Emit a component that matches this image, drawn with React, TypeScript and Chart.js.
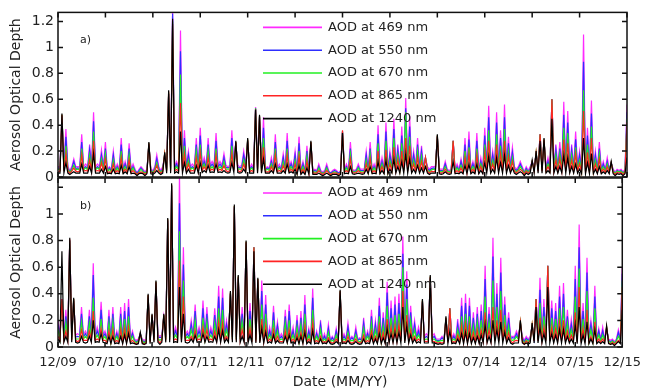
import React, { useEffect, useRef } from "react";
import { Chart, registerables } from "chart.js";

Chart.register(...registerables);

const X_TICK_LABELS = ["12/09", "07/10", "12/10", "07/11", "12/11", "07/12", "12/12", "07/13", "12/13", "07/14", "12/14", "07/15", "12/15"];
const SERIES_NAMES = ["AOD at 469 nm", "AOD at 550 nm", "AOD at 670 nm", "AOD at 865 nm", "AOD at 1240 nm"];
const SERIES_COLORS = ["#ff2aff", "#2e2eff", "#22f022", "#ff2424", "#000000"];
const Y_MAX = 1.27;

// Panel a) — spike (peak) values, one per ~15 days
const A_469 = [
  0.08, 0.47, 0.37, 0.05, 0.14, 0.08, 0.33, 0.10, 0.25, 0.50,
  0.10, 0.21, 0.27, 0.08, 0.20, 0.10, 0.30, 0.12, 0.26, 0.10,
  0.03, 0.08, 0.04, 0.25, 0.05, 0.17, 0.05, 0.17, 0.64, 1.30,
  0.12, 1.13, 0.36, 0.20, 0.10, 0.30, 0.38, 0.15, 0.30, 0.12,
  0.34, 0.12, 0.18, 0.08, 0.36, 0.26, 0.08, 0.20, 0.28, 0.10,
  0.54, 0.46, 0.46, 0.08, 0.15, 0.33, 0.10, 0.18, 0.34, 0.12,
  0.20, 0.31, 0.12, 0.24, 0.26, 0.06, 0.10, 0.04, 0.10, 0.03,
  0.06, 0.03, 0.35, 0.10, 0.27, 0.05, 0.10, 0.06, 0.20, 0.27,
  0.10, 0.40, 0.15, 0.42, 0.20, 0.45, 0.25, 0.39, 0.61, 0.47,
  0.20, 0.30, 0.24, 0.15, 0.06, 0.08, 0.31, 0.06, 0.12, 0.05,
  0.28, 0.10, 0.14, 0.30, 0.35, 0.12, 0.34, 0.15, 0.38, 0.55,
  0.20, 0.50, 0.36, 0.56, 0.31, 0.23, 0.06, 0.12, 0.04, 0.05,
  0.12, 0.18, 0.33, 0.28, 0.15, 0.60, 0.25, 0.27, 0.58, 0.51,
  0.25, 0.35, 0.20, 1.10, 0.38, 0.59, 0.20, 0.27, 0.12, 0.15,
  0.11, 0.04, 0.05, 0.04, 0.56,
];
const A_550 = [
  0.07, 0.47, 0.31, 0.04, 0.12, 0.07, 0.27, 0.08, 0.21, 0.43,
  0.08, 0.17, 0.22, 0.07, 0.17, 0.08, 0.25, 0.10, 0.22, 0.08,
  0.03, 0.07, 0.03, 0.25, 0.04, 0.14, 0.04, 0.17, 0.64, 1.26,
  0.10, 0.97, 0.30, 0.17, 0.08, 0.25, 0.32, 0.12, 0.25, 0.10,
  0.28, 0.10, 0.15, 0.07, 0.30, 0.26, 0.07, 0.17, 0.28, 0.08,
  0.53, 0.46, 0.38, 0.07, 0.12, 0.27, 0.08, 0.15, 0.28, 0.10,
  0.17, 0.26, 0.10, 0.20, 0.26, 0.05, 0.08, 0.03, 0.08, 0.03,
  0.05, 0.03, 0.35, 0.08, 0.22, 0.04, 0.08, 0.05, 0.17, 0.22,
  0.08, 0.33, 0.12, 0.35, 0.17, 0.37, 0.21, 0.32, 0.53, 0.39,
  0.17, 0.25, 0.20, 0.15, 0.05, 0.07, 0.31, 0.05, 0.10, 0.04,
  0.28, 0.08, 0.12, 0.25, 0.29, 0.10, 0.28, 0.12, 0.32, 0.46,
  0.17, 0.42, 0.30, 0.46, 0.26, 0.19, 0.05, 0.10, 0.03, 0.04,
  0.12, 0.18, 0.33, 0.28, 0.12, 0.60, 0.21, 0.22, 0.48, 0.42,
  0.21, 0.29, 0.17, 0.89, 0.32, 0.49, 0.17, 0.22, 0.10, 0.12,
  0.11, 0.03, 0.04, 0.03, 0.50,
];
const A_670 = [
  0.06, 0.48, 0.24, 0.04, 0.09, 0.06, 0.22, 0.07, 0.17, 0.35,
  0.07, 0.14, 0.18, 0.06, 0.13, 0.07, 0.20, 0.08, 0.17, 0.07,
  0.02, 0.06, 0.03, 0.26, 0.04, 0.11, 0.04, 0.18, 0.65, 1.20,
  0.08, 0.79, 0.24, 0.13, 0.07, 0.20, 0.25, 0.10, 0.20, 0.08,
  0.22, 0.08, 0.12, 0.06, 0.24, 0.27, 0.06, 0.13, 0.29, 0.07,
  0.53, 0.47, 0.30, 0.06, 0.10, 0.22, 0.07, 0.12, 0.22, 0.08,
  0.13, 0.20, 0.08, 0.16, 0.27, 0.04, 0.07, 0.03, 0.07, 0.02,
  0.04, 0.02, 0.35, 0.07, 0.18, 0.04, 0.07, 0.04, 0.13, 0.18,
  0.07, 0.26, 0.10, 0.28, 0.13, 0.30, 0.17, 0.26, 0.50, 0.31,
  0.13, 0.20, 0.16, 0.15, 0.04, 0.06, 0.32, 0.04, 0.08, 0.04,
  0.28, 0.07, 0.09, 0.20, 0.23, 0.08, 0.22, 0.10, 0.25, 0.36,
  0.13, 0.33, 0.24, 0.37, 0.20, 0.15, 0.04, 0.08, 0.03, 0.04,
  0.12, 0.19, 0.33, 0.29, 0.10, 0.60, 0.17, 0.18, 0.38, 0.34,
  0.17, 0.23, 0.13, 0.67, 0.25, 0.39, 0.13, 0.18, 0.08, 0.10,
  0.11, 0.03, 0.04, 0.03, 0.45,
];
const A_865 = [
  0.04, 0.48, 0.18, 0.03, 0.07, 0.04, 0.17, 0.05, 0.13, 0.28,
  0.05, 0.11, 0.14, 0.04, 0.10, 0.05, 0.15, 0.06, 0.13, 0.05,
  0.02, 0.04, 0.02, 0.26, 0.03, 0.09, 0.03, 0.18, 0.66, 1.18,
  0.06, 0.57, 0.18, 0.10, 0.05, 0.15, 0.19, 0.08, 0.15, 0.06,
  0.17, 0.06, 0.09, 0.04, 0.18, 0.27, 0.04, 0.10, 0.29, 0.05,
  0.52, 0.47, 0.23, 0.04, 0.08, 0.17, 0.05, 0.09, 0.17, 0.06,
  0.10, 0.16, 0.06, 0.12, 0.27, 0.03, 0.05, 0.02, 0.05, 0.02,
  0.03, 0.02, 0.36, 0.05, 0.14, 0.03, 0.05, 0.03, 0.10, 0.14,
  0.05, 0.20, 0.08, 0.21, 0.10, 0.23, 0.13, 0.20, 0.30, 0.24,
  0.10, 0.15, 0.12, 0.15, 0.03, 0.04, 0.32, 0.03, 0.06, 0.03,
  0.28, 0.05, 0.07, 0.15, 0.18, 0.06, 0.17, 0.08, 0.19, 0.28,
  0.10, 0.25, 0.18, 0.28, 0.16, 0.12, 0.03, 0.06, 0.02, 0.03,
  0.12, 0.19, 0.33, 0.29, 0.08, 0.60, 0.13, 0.14, 0.29, 0.26,
  0.13, 0.18, 0.10, 0.51, 0.19, 0.30, 0.10, 0.14, 0.06, 0.08,
  0.11, 0.02, 0.03, 0.02, 0.42,
];
const A_1240 = [
  0.03, 0.49, 0.11, 0.02, 0.04, 0.03, 0.10, 0.03, 0.08, 0.18,
  0.03, 0.06, 0.08, 0.03, 0.06, 0.03, 0.09, 0.04, 0.08, 0.03,
  0.01, 0.03, 0.01, 0.27, 0.02, 0.05, 0.02, 0.19, 0.67, 1.22,
  0.04, 0.35, 0.11, 0.06, 0.03, 0.09, 0.11, 0.05, 0.09, 0.04,
  0.10, 0.04, 0.05, 0.03, 0.11, 0.28, 0.03, 0.06, 0.30, 0.03,
  0.52, 0.48, 0.14, 0.03, 0.05, 0.10, 0.03, 0.05, 0.10, 0.04,
  0.06, 0.09, 0.04, 0.07, 0.28, 0.02, 0.03, 0.01, 0.03, 0.01,
  0.02, 0.01, 0.34, 0.03, 0.08, 0.02, 0.03, 0.02, 0.06, 0.08,
  0.03, 0.12, 0.05, 0.13, 0.06, 0.14, 0.08, 0.12, 0.18, 0.14,
  0.06, 0.09, 0.07, 0.08, 0.02, 0.03, 0.33, 0.02, 0.04, 0.02,
  0.12, 0.03, 0.04, 0.09, 0.10, 0.04, 0.10, 0.05, 0.11, 0.16,
  0.06, 0.15, 0.11, 0.17, 0.09, 0.07, 0.02, 0.04, 0.01, 0.02,
  0.13, 0.20, 0.28, 0.30, 0.05, 0.45, 0.08, 0.08, 0.17, 0.15,
  0.08, 0.10, 0.06, 0.30, 0.11, 0.18, 0.06, 0.08, 0.04, 0.05,
  0.12, 0.01, 0.02, 0.01, 0.15,
];
// Panel a) — background (trough) level per half-year period
const A_BASE_469 = [0.08, 0.06, 0.08, 0.09, 0.07, 0.05, 0.06, 0.08, 0.06, 0.08, 0.08, 0.06];
const A_BASE_550 = [0.065, 0.05, 0.065, 0.075, 0.06, 0.04, 0.05, 0.065, 0.05, 0.065, 0.065, 0.05];
const A_BASE_670 = [0.055, 0.04, 0.055, 0.06, 0.05, 0.035, 0.04, 0.055, 0.045, 0.055, 0.055, 0.045];
const A_BASE_865 = [0.045, 0.035, 0.045, 0.05, 0.04, 0.03, 0.035, 0.045, 0.035, 0.045, 0.045, 0.035];
const A_BASE_1240 = [0.03, 0.025, 0.03, 0.035, 0.03, 0.02, 0.025, 0.03, 0.025, 0.03, 0.03, 0.025];

// Panel b)
const B_469 = [
  0.20, 0.36, 0.28, 0.80, 0.35, 0.10, 0.30, 0.12, 0.28, 0.63,
  0.15, 0.34, 0.12, 0.28, 0.30, 0.12, 0.30, 0.33, 0.36, 0.12,
  0.05, 0.10, 0.05, 0.38, 0.23, 0.48, 0.08, 0.23, 0.95, 1.21,
  0.15, 1.30, 0.75, 0.12, 0.20, 0.32, 0.15, 0.35, 0.30, 0.15,
  0.29, 0.46, 0.44, 0.20, 0.40, 1.05, 0.52, 0.30, 0.78, 0.33,
  0.75, 0.50, 0.50, 0.39, 0.15, 0.31, 0.19, 0.10, 0.28, 0.32,
  0.15, 0.24, 0.27, 0.39, 0.14, 0.44, 0.12, 0.20, 0.10, 0.17,
  0.08, 0.14, 0.41, 0.10, 0.18, 0.08, 0.15, 0.07, 0.22, 0.12,
  0.28, 0.20, 0.37, 0.26, 0.49, 0.35, 0.38, 0.40, 0.83, 0.57,
  0.31, 0.20, 0.15, 0.34, 0.10, 0.52, 0.10, 0.06, 0.08, 0.21,
  0.29, 0.10, 0.21, 0.37, 0.40, 0.37, 0.26, 0.30, 0.32, 0.61,
  0.30, 0.82, 0.48, 0.67, 0.38, 0.26, 0.08, 0.12, 0.18, 0.05,
  0.06, 0.16, 0.36, 0.52, 0.36, 0.61, 0.35, 0.33, 0.46, 0.48,
  0.28, 0.21, 0.61, 0.92, 0.33, 0.67, 0.20, 0.46, 0.14, 0.15,
  0.14, 0.05, 0.04, 0.13, 0.60,
];
const B_550 = [
  0.17, 0.34, 0.23, 0.80, 0.35, 0.08, 0.25, 0.10, 0.23, 0.54,
  0.12, 0.28, 0.10, 0.23, 0.25, 0.10, 0.25, 0.27, 0.30, 0.10,
  0.04, 0.10, 0.04, 0.38, 0.23, 0.48, 0.07, 0.23, 0.95, 1.21,
  0.12, 1.08, 0.62, 0.10, 0.17, 0.27, 0.12, 0.29, 0.25, 0.12,
  0.24, 0.38, 0.37, 0.17, 0.40, 1.05, 0.52, 0.25, 0.78, 0.27,
  0.75, 0.50, 0.42, 0.32, 0.12, 0.26, 0.16, 0.08, 0.23, 0.27,
  0.12, 0.20, 0.22, 0.32, 0.12, 0.37, 0.10, 0.17, 0.08, 0.14,
  0.07, 0.12, 0.41, 0.08, 0.15, 0.07, 0.12, 0.06, 0.18, 0.10,
  0.23, 0.17, 0.31, 0.22, 0.41, 0.29, 0.32, 0.33, 0.70, 0.47,
  0.26, 0.17, 0.12, 0.34, 0.08, 0.52, 0.08, 0.05, 0.07, 0.21,
  0.29, 0.08, 0.17, 0.31, 0.33, 0.31, 0.22, 0.25, 0.27, 0.51,
  0.25, 0.68, 0.40, 0.56, 0.32, 0.22, 0.07, 0.10, 0.18, 0.04,
  0.05, 0.16, 0.36, 0.43, 0.30, 0.61, 0.29, 0.27, 0.38, 0.40,
  0.23, 0.17, 0.51, 0.75, 0.27, 0.56, 0.17, 0.38, 0.12, 0.12,
  0.14, 0.04, 0.03, 0.11, 0.55,
];
const B_670 = [
  0.13, 0.35, 0.18, 0.80, 0.36, 0.06, 0.19, 0.08, 0.18, 0.37,
  0.09, 0.21, 0.08, 0.18, 0.19, 0.08, 0.19, 0.21, 0.23, 0.08,
  0.03, 0.10, 0.03, 0.39, 0.24, 0.49, 0.05, 0.24, 0.96, 1.22,
  0.09, 0.87, 0.50, 0.08, 0.13, 0.20, 0.09, 0.22, 0.19, 0.09,
  0.18, 0.29, 0.28, 0.13, 0.41, 1.06, 0.53, 0.19, 0.79, 0.21,
  0.75, 0.51, 0.32, 0.25, 0.09, 0.20, 0.12, 0.06, 0.18, 0.20,
  0.09, 0.15, 0.17, 0.25, 0.09, 0.28, 0.08, 0.13, 0.06, 0.11,
  0.05, 0.09, 0.42, 0.06, 0.11, 0.05, 0.09, 0.04, 0.14, 0.08,
  0.18, 0.13, 0.23, 0.16, 0.31, 0.22, 0.24, 0.25, 0.60, 0.36,
  0.20, 0.13, 0.09, 0.35, 0.06, 0.53, 0.06, 0.04, 0.05, 0.22,
  0.29, 0.06, 0.13, 0.23, 0.25, 0.23, 0.16, 0.19, 0.20, 0.38,
  0.19, 0.50, 0.30, 0.42, 0.24, 0.16, 0.05, 0.08, 0.19, 0.03,
  0.04, 0.17, 0.36, 0.33, 0.23, 0.61, 0.22, 0.21, 0.29, 0.30,
  0.18, 0.13, 0.38, 0.59, 0.21, 0.42, 0.13, 0.29, 0.09, 0.09,
  0.15, 0.03, 0.03, 0.08, 0.50,
];
const B_865 = [
  0.08, 0.36, 0.12, 0.81, 0.36, 0.04, 0.13, 0.05, 0.12, 0.27,
  0.06, 0.14, 0.05, 0.12, 0.13, 0.05, 0.13, 0.14, 0.15, 0.05,
  0.02, 0.10, 0.02, 0.39, 0.24, 0.49, 0.03, 0.24, 0.96, 1.22,
  0.06, 0.65, 0.38, 0.05, 0.08, 0.13, 0.06, 0.15, 0.13, 0.06,
  0.12, 0.19, 0.18, 0.08, 0.41, 1.06, 0.53, 0.13, 0.79, 0.14,
  0.75, 0.51, 0.21, 0.16, 0.06, 0.13, 0.08, 0.04, 0.12, 0.13,
  0.06, 0.10, 0.11, 0.16, 0.06, 0.18, 0.05, 0.08, 0.04, 0.07,
  0.03, 0.06, 0.42, 0.04, 0.08, 0.03, 0.06, 0.03, 0.09, 0.05,
  0.12, 0.08, 0.16, 0.11, 0.21, 0.15, 0.16, 0.17, 0.42, 0.24,
  0.13, 0.08, 0.06, 0.35, 0.04, 0.53, 0.04, 0.03, 0.03, 0.22,
  0.29, 0.04, 0.09, 0.16, 0.17, 0.16, 0.11, 0.13, 0.13, 0.26,
  0.13, 0.30, 0.20, 0.28, 0.16, 0.11, 0.03, 0.05, 0.19, 0.02,
  0.03, 0.17, 0.36, 0.22, 0.15, 0.61, 0.15, 0.14, 0.19, 0.20,
  0.12, 0.09, 0.26, 0.45, 0.14, 0.28, 0.08, 0.19, 0.06, 0.06,
  0.15, 0.02, 0.02, 0.05, 0.45,
];
const B_1240 = [
  0.06, 0.72, 0.08, 0.82, 0.37, 0.03, 0.08, 0.03, 0.08, 0.20,
  0.04, 0.10, 0.03, 0.08, 0.08, 0.03, 0.08, 0.09, 0.10, 0.03,
  0.02, 0.11, 0.02, 0.40, 0.25, 0.50, 0.02, 0.25, 0.97, 1.23,
  0.04, 0.45, 0.25, 0.03, 0.06, 0.09, 0.04, 0.10, 0.08, 0.04,
  0.08, 0.13, 0.12, 0.06, 0.42, 1.07, 0.54, 0.08, 0.80, 0.09,
  0.72, 0.52, 0.14, 0.11, 0.04, 0.09, 0.05, 0.03, 0.08, 0.09,
  0.04, 0.07, 0.08, 0.11, 0.04, 0.12, 0.03, 0.06, 0.03, 0.05,
  0.02, 0.04, 0.43, 0.03, 0.05, 0.02, 0.04, 0.02, 0.06, 0.03,
  0.08, 0.06, 0.10, 0.07, 0.14, 0.10, 0.11, 0.11, 0.30, 0.16,
  0.09, 0.06, 0.04, 0.36, 0.03, 0.54, 0.03, 0.02, 0.02, 0.23,
  0.12, 0.03, 0.06, 0.10, 0.11, 0.10, 0.07, 0.08, 0.09, 0.17,
  0.08, 0.20, 0.13, 0.19, 0.11, 0.07, 0.02, 0.03, 0.20, 0.02,
  0.02, 0.18, 0.30, 0.15, 0.10, 0.45, 0.10, 0.09, 0.13, 0.13,
  0.08, 0.06, 0.17, 0.30, 0.09, 0.19, 0.06, 0.13, 0.04, 0.04,
  0.16, 0.02, 0.01, 0.04, 0.28,
];
const B_BASE_469 = [0.09, 0.06, 0.09, 0.09, 0.07, 0.05, 0.06, 0.08, 0.06, 0.08, 0.08, 0.06];
const B_BASE_550 = [0.075, 0.05, 0.075, 0.075, 0.06, 0.045, 0.05, 0.065, 0.05, 0.065, 0.065, 0.05];
const B_BASE_670 = [0.06, 0.045, 0.06, 0.06, 0.05, 0.04, 0.045, 0.055, 0.045, 0.055, 0.055, 0.045];
const B_BASE_865 = [0.05, 0.035, 0.05, 0.05, 0.04, 0.035, 0.035, 0.045, 0.035, 0.045, 0.045, 0.035];
const B_BASE_1240 = [0.035, 0.025, 0.035, 0.035, 0.03, 0.025, 0.025, 0.03, 0.025, 0.03, 0.03, 0.025];

const FONT = "'DejaVu Sans', sans-serif";
const TEXT_COLOR = "#222";
const X_STEP = 12;
const X_MAX = (X_TICK_LABELS.length - 1) * X_STEP;

function makeDatasets(series: number[][], bases: number[][]) {
  return series.map((arr, k) => {
    const pts: { x: number; y: number }[] = [];
    arr.forEach((y, i) => {
      pts.push({ x: i, y });
      if (i < arr.length - 1) pts.push({ x: i + 0.5, y: bases[k][Math.floor(i / X_STEP)] });
    });
    return {
      label: SERIES_NAMES[k],
      data: pts,
      borderColor: SERIES_COLORS[k],
      backgroundColor: SERIES_COLORS[k],
      borderWidth: 1.2,
      pointRadius: 0,
      tension: 0,
      fill: false,
      order: series.length - 1 - k,
    };
  });
}

const panelPlugin = {
  id: "panelDecor",
  afterDatasetsDraw(chart: any, _args: any, opts: any) {
    const { ctx, chartArea } = chart;
    const { left, right, top, bottom } = chartArea;
    const ys = chart.scales.y;
    const xs = chart.scales.x;
    ctx.save();
    ctx.strokeStyle = "#111";
    ctx.lineWidth = 1.5;
    ctx.strokeRect(left, top, right - left, bottom - top);
    ctx.beginPath();
    ys.ticks.forEach((t: any) => {
      const p = ys.getPixelForValue(t.value);
      ctx.moveTo(left, p);
      ctx.lineTo(left + 5, p);
      ctx.moveTo(right, p);
      ctx.lineTo(right - 5, p);
    });
    for (let v = 0; v <= X_MAX; v += X_STEP) {
      const p = xs.getPixelForValue(v);
      ctx.moveTo(p, top);
      ctx.lineTo(p, top + 5);
      ctx.moveTo(p, bottom);
      ctx.lineTo(p, bottom - 5);
    }
    ctx.stroke();
    ctx.font = `13px ${FONT}`;
    ctx.textBaseline = "middle";
    ctx.textAlign = "left";
    SERIES_NAMES.forEach((name, k) => {
      const y = top + 15 + 22.8 * k;
      ctx.strokeStyle = SERIES_COLORS[k];
      ctx.lineWidth = 1.6;
      ctx.beginPath();
      ctx.moveTo(left + 205, y);
      ctx.lineTo(left + 264, y);
      ctx.stroke();
      ctx.fillStyle = TEXT_COLOR;
      ctx.fillText(name, left + 270, y);
    });
    ctx.font = `11px ${FONT}`;
    ctx.fillStyle = TEXT_COLOR;
    ctx.fillText(opts.label, left + 22, top + 28);
    ctx.restore();
  },
};

function yScale(hideTop: boolean) {
  return {
    type: "linear" as const,
    min: 0,
    max: Y_MAX,
    grid: { display: false, drawTicks: false },
    border: { display: false },
    ticks: {
      stepSize: 0.2,
      includeBounds: false,
      padding: 4,
      color: TEXT_COLOR,
      font: { family: FONT, size: 14 },
      callback: (v: any) => {
        const r = Math.round(Number(v) * 10) / 10;
        if (hideTop && r > 1.1) return "";
        return String(r);
      },
    },
    title: {
      display: true,
      text: "Aerosol Optical Depth",
      color: TEXT_COLOR,
      font: { family: FONT, size: 14 },
      padding: { top: 8, bottom: 0 },
    },
    afterFit: (s: any) => {
      s.width = 58;
    },
  };
}

export default function App() {
  const refA = useRef<HTMLCanvasElement>(null);
  const refB = useRef<HTMLCanvasElement>(null);

  useEffect(() => {
    const chartA = new Chart(refA.current as HTMLCanvasElement, {
      type: "line",
      data: {
        datasets: makeDatasets(
          [A_469, A_550, A_670, A_865, A_1240],
          [A_BASE_469, A_BASE_550, A_BASE_670, A_BASE_865, A_BASE_1240]
        ) as any,
      },
      options: {
        animation: false,
        responsive: false,
        events: [],
        layout: { padding: { top: 10, right: 22, bottom: 13, left: 0 } },
        plugins: {
          legend: { display: false },
          tooltip: { enabled: false },
          panelDecor: { label: "a)" },
        } as any,
        scales: {
          x: {
            type: "linear",
            min: 0,
            max: X_MAX,
            grid: { display: false, drawTicks: false },
            border: { display: false },
            ticks: { display: false, stepSize: X_STEP },
            afterFit: (s: any) => {
              s.height = 0;
            },
          },
          y: yScale(false),
        } as any,
      },
      plugins: [panelPlugin],
    });

    const chartB = new Chart(refB.current as HTMLCanvasElement, {
      type: "line",
      data: {
        datasets: makeDatasets(
          [B_469, B_550, B_670, B_865, B_1240],
          [B_BASE_469, B_BASE_550, B_BASE_670, B_BASE_865, B_BASE_1240]
        ) as any,
      },
      options: {
        animation: false,
        responsive: false,
        events: [],
        layout: { padding: { top: 178, right: 22, bottom: 0, left: 0 } },
        plugins: {
          legend: { display: false },
          tooltip: { enabled: false },
          panelDecor: { label: "b)" },
        } as any,
        scales: {
          x: {
            type: "linear",
            min: 0,
            max: X_MAX,
            grid: { display: false, drawTicks: false },
            border: { display: false },
            ticks: {
              stepSize: X_STEP,
              autoSkip: false,
              maxRotation: 0,
              padding: 8,
              color: TEXT_COLOR,
              font: { family: FONT, size: 13 },
              callback: (v: any) => X_TICK_LABELS[Math.round(Number(v) / X_STEP)] ?? "",
            },
            title: {
              display: true,
              text: "Date (MM/YY)",
              color: TEXT_COLOR,
              font: { family: FONT, size: 14 },
              padding: { top: 0, bottom: 1 },
            },
            afterFit: (s: any) => {
              s.height = 45;
            },
          },
          y: yScale(true),
        } as any,
      },
      plugins: [panelPlugin],
    });

    return () => {
      chartA.destroy();
      chartB.destroy();
    };
  }, []);

  return (
    <div style={{ position: "fixed", left: 0, top: 0, width: 649, height: 392, background: "#fff" }}>
      <canvas ref={refA} width={649} height={190} style={{ position: "absolute", left: 0, top: 0 }} />
      <canvas ref={refB} width={649} height={392} style={{ position: "absolute", left: 0, top: 0 }} />
    </div>
  );
}
